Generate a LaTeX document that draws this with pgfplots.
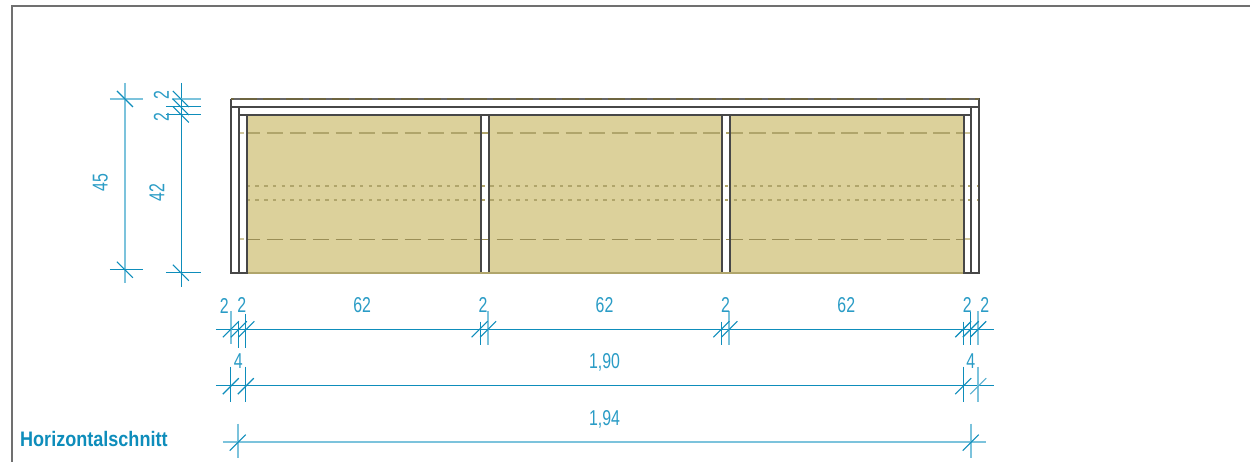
\documentclass[border=0pt]{standalone}
\usepackage{fontspec}
\setmainfont[FakeStretch=0.74]{Liberation Sans}
\newfontfamily\headfont[FakeStretch=0.86]{Liberation Sans}
\usepackage{pgfplots}
\pgfplotsset{compat=1.18}

\definecolor{dimdark}{HTML}{0E8DBB}
\definecolor{dimlight}{HTML}{7CC3DC}
\definecolor{dimtext}{HTML}{2A9CC6}
\definecolor{wood}{HTML}{DCD19B}
\definecolor{hidden}{HTML}{B0A56B}
\definecolor{hiddendk}{HTML}{9A8E56}
\definecolor{hiddenlt}{HTML}{CFC69B}
\definecolor{topline}{HTML}{6E6540}
\definecolor{frame}{HTML}{707070}

\tikzset{
  dd/.style={no marks, draw=dimdark, line width=1pt},
  dl/.style={no marks, draw=dimlight, line width=2pt},
  ds/.style={no marks, draw=dimdark, line width=1.1pt},
  bk/.style={no marks, draw=black!72, line width=2pt},
  lab/.style={font=\fontsize{21.5}{21.5}\selectfont, text=dimtext, inner sep=0pt, anchor=center},
}

\begin{document}
\begin{tikzpicture}
\begin{axis}[
    scale only axis, width=1251pt, height=462pt,
    xmin=0, xmax=1251, ymin=0, ymax=462,
    y dir=reverse,
    axis lines=none,
    clip=false,
    unbounded coords=jump,
]
% page background sets the bounding box
\path[fill=white] (axis cs:0,0) rectangle (axis cs:1251,462);

% frame
\addplot[no marks, draw=frame, line width=2pt] coordinates {(12,462) (12,6.5) (1251,6.5)};

% shelf backs
\addplot[no marks, draw=none, fill=wood] coordinates {(247,115) (964.5,115) (964.5,273.5) (247,273.5)} --cycle;
\addplot[no marks, draw=none, fill=white] coordinates {(481,115) (489,115) (489,273.5) (481,273.5)} --cycle;
\addplot[no marks, draw=none, fill=white] coordinates {(722.5,115) (730.5,115) (730.5,273.5) (722.5,273.5)} --cycle;

% hidden edges
\addplot[no marks, draw=hidden, line width=2pt, dash pattern=on 16.5pt off 6.5pt, dash phase=3pt] coordinates {(247,133) (964,133)};
\addplot[no marks, draw=hiddendk, line width=1pt, dash pattern=on 16.5pt off 6.5pt, dash phase=3pt] coordinates {(247,239.5) (964,239.5)};
\addplot[no marks, draw=hidden, line width=2pt, dash pattern=on 3.5pt off 5.2pt] coordinates {(247,186.5) (980,186.5)};
\addplot[no marks, draw=hidden, line width=2pt, dash pattern=on 3.5pt off 5.2pt] coordinates {(247,200.5) (980,200.5)};
\addplot[no marks, draw=hiddenlt, line width=2pt] coordinates {(239,133) (244,133) (nan,nan) (966,133) (971,133) (nan,nan) (239,239.5) (244,239.5) (nan,nan) (966,239.5) (971,239.5)};

% carcass
\addplot[bk] coordinates {(231,99.5) (980,99.5) (980,107.5) (231,107.5) (231,99.5)};
\addplot[no marks, draw=topline, line width=2pt] coordinates {(231,99.5) (980,99.5)};
\addplot[no marks, draw=black!60, line width=2pt, dash pattern=on 6pt off 17pt, dash phase=-3pt] coordinates {(231,99.5) (980,99.5)};
\addplot[bk] coordinates {(239,115) (972,115)};
\addplot[bk] coordinates {(231,107.5) (231,273.5) (247,273.5) (247,115)};
\addplot[bk] coordinates {(239,107.5) (239,273.5)};
\addplot[bk] coordinates {(964.5,115) (964.5,273.5) (980,273.5) (980,107.5)};
\addplot[bk] coordinates {(972,107.5) (972,273.5)};
\addplot[bk] coordinates {(481,115) (481,273.5) (nan,nan) (489,115) (489,273.5)};
\addplot[bk] coordinates {(722.5,115) (722.5,273.5) (nan,nan) (730.5,115) (730.5,273.5)};
\addplot[no marks, draw=hidden, line width=2pt] coordinates {(248,273.5) (963.5,273.5)};

% vertical dimension, 45
\addplot[dl] coordinates {(125,83) (125,283) (nan,nan) (110,99) (143,99)};
\addplot[dd] coordinates {(110,269.5) (143,269.5)};
\addplot[ds] coordinates {(117,91) (133,107) (nan,nan) (117,262) (133,278)};

% vertical dimension, 2 / 2 / 42
\addplot[dd] coordinates {(181.3,83) (181.3,287)};
\addplot[dl] coordinates {(172,99) (201,99)};
\addplot[dd] coordinates {(166,106.7) (201,106.7) (nan,nan) (166,114.3) (201,114.3) (nan,nan) (166,273) (201,273)};
\addplot[ds] coordinates {(173,91) (189,107) (nan,nan) (173,99) (189,115) (nan,nan) (173,106.5) (189,122.5) (nan,nan) (173,265) (189,281)};

% horizontal dimension, row 1
\addplot[dd] coordinates {(216,329.3) (995,329.3)};
\addplot[dl] coordinates {(230.7,311) (230.7,344) (nan,nan) (488.5,311) (488.5,345) (nan,nan) (730,311) (730,345) (nan,nan) (979,311) (979,345)};
\addplot[dd] coordinates {(238.7,321) (238.7,348) (nan,nan) (246,314) (246,348) (nan,nan) (480.5,322) (480.5,345) (nan,nan) (722,322) (722,345) (nan,nan) (964,322) (964,345) (nan,nan) (971.5,312) (971.5,345)};
\addplot[ds] coordinates {(223,337.5) (239,321.5) (nan,nan) (231,337.5) (247,321.5) (nan,nan) (238.5,337.5) (254.5,321.5)
  (nan,nan) (472,337.5) (488,321.5) (nan,nan) (480.5,337.5) (496.5,321.5)
  (nan,nan) (714,337.5) (730,321.5) (nan,nan) (722,337.5) (738,321.5)
  (nan,nan) (956,337.5) (972,321.5) (nan,nan) (963.5,337.5) (979.5,321.5) (nan,nan) (971,337.5) (987,321.5)};

% horizontal dimension, row 2
\addplot[dd] coordinates {(216,386.3) (995,386.3) (nan,nan) (230.7,367) (230.7,402) (nan,nan) (246,367) (246,402) (nan,nan) (964,367) (964,402)};
\addplot[dl] coordinates {(979,367) (979,402)};
\addplot[ds] coordinates {(223,394.5) (239,378.5) (nan,nan) (238,394.5) (254,378.5) (nan,nan) (956,394.5) (972,378.5)};
\addplot[ds, draw=dimdark!70!white] coordinates {(971,394.5) (987,378.5)};

% horizontal dimension, row 3
\addplot[dl] coordinates {(223,442.7) (987,442.7) (nan,nan) (238.5,424) (238.5,458) (nan,nan) (971.7,424) (971.7,458)};
\addplot[ds] coordinates {(230,451) (246,435) (nan,nan) (963.5,451) (979.5,435)};

% labels
\node[lab, rotate=90] at (axis cs:100.5,183) {45};
\node[lab, rotate=90] at (axis cs:157,193) {42};
\node[lab, rotate=90] at (axis cs:161.5,95) {2};
\node[lab, rotate=90] at (axis cs:161.5,117) {2};
\node[lab] at (axis cs:224.5,306.5) {2};
\node[lab] at (axis cs:242,305.5) {2};
\node[lab] at (axis cs:362.5,305.5) {62};
\node[lab] at (axis cs:483.5,305.5) {2};
\node[lab] at (axis cs:605,305.5) {62};
\node[lab] at (axis cs:726,305.5) {2};
\node[lab] at (axis cs:847,305.5) {62};
\node[lab] at (axis cs:968,305.5) {2};
\node[lab] at (axis cs:985.5,305.5) {2};
\node[lab] at (axis cs:238.5,361.5) {4};
\node[lab] at (axis cs:605,362.5) {1,90};
\node[lab] at (axis cs:971.5,361.5) {4};
\node[lab] at (axis cs:605,419.5) {1,94};
\node[anchor=west, inner sep=0pt, text=dimdark, font=\headfont\bfseries\fontsize{21}{21}\selectfont] at (axis cs:20,439) {Horizontalschnitt};
\end{axis}
\end{tikzpicture}
\end{document}
